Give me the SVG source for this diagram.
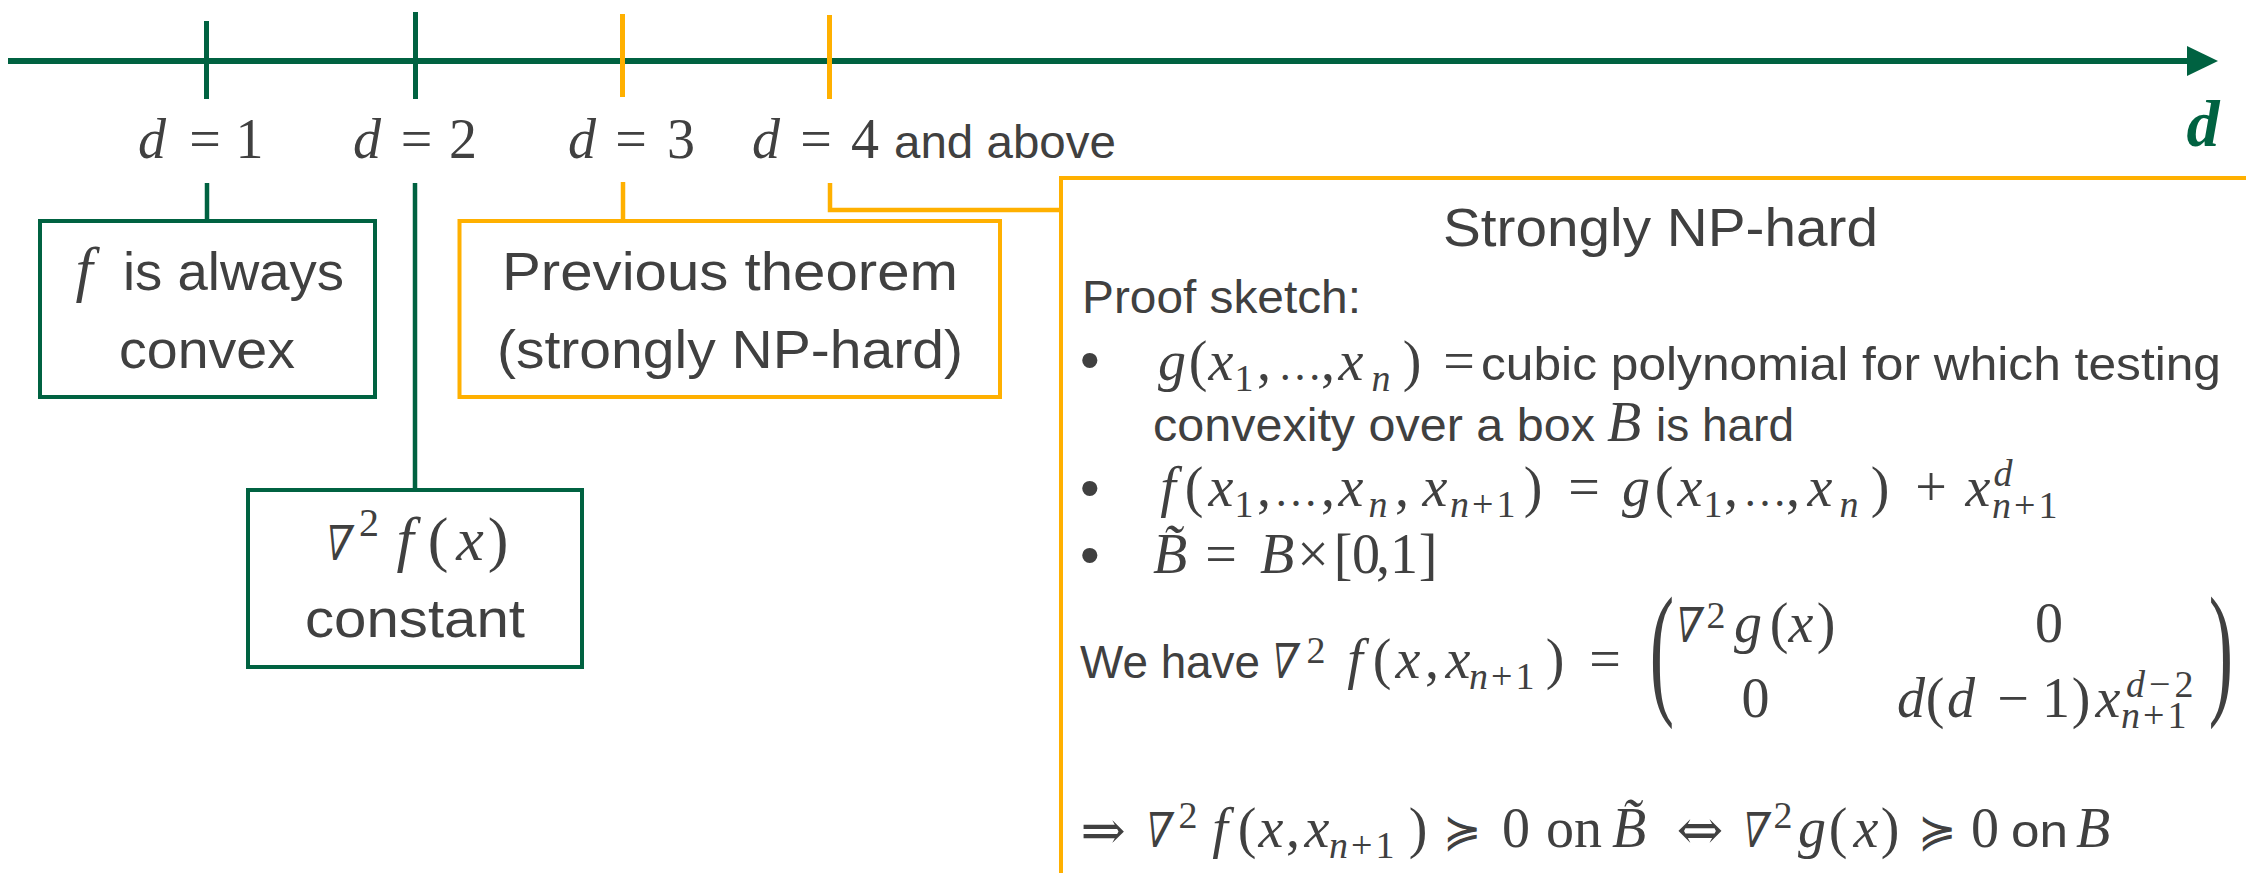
<svg xmlns="http://www.w3.org/2000/svg" width="2246" height="873" viewBox="0 0 2246 873">
<style>
.gs{stroke:#006241;fill:none}
.os{stroke:#FFB000;fill:none}
.box{fill:#ffffff;stroke-width:4}
.t{font-family:"Liberation Sans",Arial,sans-serif;fill:#404040}
.m{font-family:"Liberation Serif","DejaVu Serif",serif;fill:#404040}
.s{font-family:"DejaVu Serif","Liberation Serif",serif;fill:#404040}
.i{font-style:italic}
.c{text-anchor:middle}
.e{font-size:44px}
.sb{font-size:38px;letter-spacing:3px}
.nb{font-family:"DejaVu Serif","Liberation Serif",serif;fill:#404040;font-size:48px;text-anchor:middle}
</style>
<rect width="2246" height="873" fill="#ffffff"/>
<g id="connectors">
  <line x1="8" y1="61" x2="2190" y2="61" class="gs" stroke-width="6"/>
  <polygon points="2187,46 2218,61 2187,76" fill="#006241"/>
  <line x1="206.5" y1="21" x2="206.5" y2="99" class="gs" stroke-width="5"/>
  <line x1="415.5" y1="12" x2="415.5" y2="99" class="gs" stroke-width="5"/>
  <line x1="622.5" y1="14" x2="622.5" y2="97" class="os" stroke-width="5"/>
  <line x1="829.5" y1="15" x2="829.5" y2="99" class="os" stroke-width="5"/>
  <line x1="207" y1="183" x2="207" y2="221" class="gs" stroke-width="4.5"/>
  <line x1="415" y1="183" x2="415" y2="490" class="gs" stroke-width="4.5"/>
  <line x1="623" y1="182" x2="623" y2="221" class="os" stroke-width="4.5"/>
  <path d="M830,183 V210 H1061" class="os" stroke-width="4.5"/>
</g>
<g id="axis-labels">
  <text class="m" font-size="56" y="158"><tspan class="i c" x="152">d</tspan><tspan class="c" x="205">=</tspan><tspan class="c" x="249.5">1</tspan></text>
  <text class="m" font-size="56" y="158"><tspan class="i c" x="367">d</tspan><tspan class="c" x="416.5">=</tspan><tspan class="c" x="463">2</tspan></text>
  <text class="m" font-size="56" y="158"><tspan class="i c" x="582">d</tspan><tspan class="c" x="631">=</tspan><tspan class="c" x="681">3</tspan></text>
  <text class="m" font-size="56" y="158"><tspan class="i c" x="766">d</tspan><tspan class="c" x="816">=</tspan><tspan class="c" x="865">4</tspan></text>
  <text class="t" font-size="47" x="894" y="158" textLength="222" lengthAdjust="spacingAndGlyphs">and above</text>
  <text class="m i c" font-size="66" font-weight="bold" x="2203" y="146" style="fill:#006241">d</text>
</g>
<g id="node-convex">
  <rect x="40" y="221" width="335" height="176" class="box gs"/>
  <text class="m i c" font-size="62" x="84" y="290">f</text>
  <text class="t" font-size="54" x="123" y="290" textLength="221" lengthAdjust="spacingAndGlyphs">is always</text>
  <text class="t" font-size="54" x="119" y="368" textLength="176" lengthAdjust="spacingAndGlyphs">convex</text>
</g>
<g id="node-hessian">
  <rect x="248" y="490" width="334" height="177" class="box gs"/>
  <text class="nb" font-size="56" transform="translate(335,560) skewX(-12) scale(0.8,1)">∇</text>
  <text class="m" font-size="62" y="560"><tspan class="c" x="369" y="536" font-size="40">2</tspan><tspan class="i c" x="405" y="560">f</tspan><tspan class="c" x="438">(</tspan><tspan class="i c" x="470">x</tspan><tspan class="c" x="498">)</tspan></text>
  <text class="t" font-size="54" x="305" y="637" textLength="220" lengthAdjust="spacingAndGlyphs">constant</text>
</g>
<g id="node-previous">
  <rect x="459.5" y="221" width="540.5" height="176" class="box os"/>
  <text class="t" font-size="54" x="502" y="290" textLength="456" lengthAdjust="spacingAndGlyphs">Previous theorem</text>
  <text class="t" font-size="54" x="497" y="368" textLength="466" lengthAdjust="spacingAndGlyphs">(strongly NP-hard)</text>
</g>
<g id="node-strongly">
  <rect x="1061" y="178" width="1220" height="720" class="box os"/>
  <text class="t" font-size="54" x="1443" y="246" textLength="435" lengthAdjust="spacingAndGlyphs">Strongly NP-hard</text>
  <text class="t" font-size="47" x="1082" y="313" textLength="279" lengthAdjust="spacingAndGlyphs">Proof sketch:</text>
  <text class="t" font-size="56" x="1080" y="379">•</text>
  <text class="t" font-size="56" x="1080" y="507">•</text>
  <text class="t" font-size="56" x="1080" y="574">•</text>
  <!-- row 1 -->
  <text class="m" font-size="56" y="380"><tspan class="i c" x="1172">g</tspan><tspan class="c" x="1198">(</tspan><tspan class="i c" x="1221">x</tspan><tspan class="c" x="1244" y="391" font-size="38">1</tspan><tspan class="c" x="1264" y="380">,</tspan><tspan class="c e" x="1300">…</tspan><tspan class="c" x="1328">,</tspan><tspan class="i c" x="1351">x</tspan><tspan class="i c" x="1381" y="391" font-size="38">n</tspan><tspan class="c" x="1412" y="380">)</tspan><tspan class="c" x="1459">=</tspan></text>
  <text class="t" font-size="47" x="1481" y="380" textLength="740" lengthAdjust="spacingAndGlyphs">cubic polynomial for which testing</text>
  <!-- row 2 -->
  <text class="t" font-size="47" x="1153" y="441" textLength="442" lengthAdjust="spacingAndGlyphs">convexity over a box</text>
  <text class="m i c" font-size="56" x="1624" y="441">B</text>
  <text class="t" font-size="47" x="1656" y="441" textLength="138" lengthAdjust="spacingAndGlyphs">is hard</text>
  <!-- row 3 -->
  <text class="m" font-size="56" y="506"><tspan class="i c" x="1168">f</tspan><tspan class="c" x="1194">(</tspan><tspan class="i c" x="1221">x</tspan><tspan class="c" x="1244" y="517" font-size="38">1</tspan><tspan class="c" x="1264" y="506">,</tspan><tspan class="c e" x="1296">…</tspan><tspan class="c" x="1328">,</tspan><tspan class="i c" x="1351">x</tspan><tspan class="i c" x="1378" y="517" font-size="38">n</tspan><tspan class="c" x="1402" y="506">,</tspan><tspan class="i c" x="1435">x</tspan><tspan class="sb" x="1450" y="517"><tspan class="i">n</tspan>+1</tspan><tspan class="c" x="1533" y="506">)</tspan><tspan class="c" x="1584">=</tspan><tspan class="i c" x="1636">g</tspan><tspan class="c" x="1664">(</tspan><tspan class="i c" x="1690">x</tspan><tspan class="c" x="1713" y="517" font-size="38">1</tspan><tspan class="c" x="1731" y="506">,</tspan><tspan class="c e" x="1765">…</tspan><tspan class="c" x="1793">,</tspan><tspan class="i c" x="1820">x</tspan><tspan class="i c" x="1849" y="517" font-size="38">n</tspan><tspan class="c" x="1880" y="506">)</tspan><tspan class="c" x="1931">+</tspan><tspan class="i c" x="1978">x</tspan><tspan class="i c" x="2003" y="486" font-size="38">d</tspan><tspan class="sb" x="1992" y="518"><tspan class="i">n</tspan>+1</tspan></text>
  <!-- row 4 -->
  <text class="m" font-size="56" y="573"><tspan class="i c" x="1170">B̃</tspan><tspan class="c" x="1221">=</tspan><tspan class="i c" x="1277">B</tspan><tspan class="c" x="1313">×</tspan><tspan class="c" x="1343">[</tspan><tspan class="c" x="1366">0</tspan><tspan class="c" x="1383">,</tspan><tspan class="c" x="1404">1</tspan><tspan class="c" x="1428">]</tspan></text>
  <!-- hessian line -->
  <text class="t" font-size="47" x="1080" y="678" textLength="180" lengthAdjust="spacingAndGlyphs">We have</text>
  <text class="nb" transform="translate(1281,678) skewX(-12) scale(0.8,1)">∇</text>
  <text class="m" font-size="56" y="678"><tspan class="c" x="1316" y="663" font-size="38">2</tspan><tspan class="i c" x="1355" y="678">f</tspan><tspan class="c" x="1382">(</tspan><tspan class="i c" x="1408">x</tspan><tspan class="c" x="1432">,</tspan><tspan class="i c" x="1458">x</tspan><tspan class="sb" x="1469" y="689"><tspan class="i">n</tspan>+1</tspan><tspan class="c" x="1555" y="678">)</tspan><tspan class="c" x="1605">=</tspan></text>
  <text class="m" font-size="146" transform="translate(1662,698) scale(0.5,1)" text-anchor="middle">(</text>
  <text class="m" font-size="146" transform="translate(2221,698) scale(0.5,1)" text-anchor="middle">)</text>
  <text class="nb" transform="translate(1685,642) skewX(-12) scale(0.8,1)">∇</text>
  <text class="m" font-size="56" y="642"><tspan class="c" x="1716" y="628" font-size="38">2</tspan><tspan class="i c" x="1748" y="642">g</tspan><tspan class="c" x="1779">(</tspan><tspan class="i c" x="1801">x</tspan><tspan class="c" x="1826">)</tspan><tspan class="c" x="2049">0</tspan></text>
  <text class="m" font-size="56" y="717"><tspan class="c" x="1755.5">0</tspan><tspan class="i c" x="1911">d</tspan><tspan class="c" x="1935">(</tspan><tspan class="i c" x="1961">d</tspan><tspan class="c" x="2013">−</tspan><tspan class="c" x="2056">1</tspan><tspan class="c" x="2081">)</tspan><tspan class="i c" x="2108">x</tspan><tspan class="sb" x="2126" y="697" style="letter-spacing:4px"><tspan class="i">d</tspan>−2</tspan><tspan class="sb" x="2121" y="728"><tspan class="i">n</tspan>+1</tspan></text>
  <!-- final line -->
  <text class="s c" font-size="54" x="1103" y="849">⇒</text>
  <text class="nb" transform="translate(1155,847) skewX(-12) scale(0.8,1)">∇</text>
  <text class="m" font-size="56" y="847"><tspan class="c" x="1188" y="828" font-size="38">2</tspan><tspan class="i c" x="1220" y="847">f</tspan><tspan class="c" x="1247">(</tspan><tspan class="i c" x="1271">x</tspan><tspan class="c" x="1293">,</tspan><tspan class="i c" x="1317">x</tspan><tspan class="sb" x="1329" y="858"><tspan class="i">n</tspan>+1</tspan><tspan class="c" x="1418" y="847">)</tspan></text>
  <text class="s c" font-size="46" x="1462" y="847">≽</text>
  <text class="m" font-size="56" y="847"><tspan class="c" x="1516">0</tspan><tspan x="1546">on</tspan><tspan class="i c" x="1629">B̃</tspan></text>
  <text class="s c" font-size="56" x="1700" y="849">⇔</text>
  <text class="nb" transform="translate(1752,847) skewX(-12) scale(0.8,1)">∇</text>
  <text class="m" font-size="56" y="847"><tspan class="c" x="1783" y="828" font-size="38">2</tspan><tspan class="i c" x="1812" y="847">g</tspan><tspan class="c" x="1838">(</tspan><tspan class="i c" x="1866">x</tspan><tspan class="c" x="1890">)</tspan></text>
  <text class="s c" font-size="46" x="1937" y="847">≽</text>
  <text class="m c" font-size="56" x="1985" y="847">0</text>
  <text class="t" font-size="47" x="2011" y="847" textLength="57" lengthAdjust="spacingAndGlyphs">on</text>
  <text class="m i c" font-size="56" x="2093" y="847">B</text>
</g>
</svg>
